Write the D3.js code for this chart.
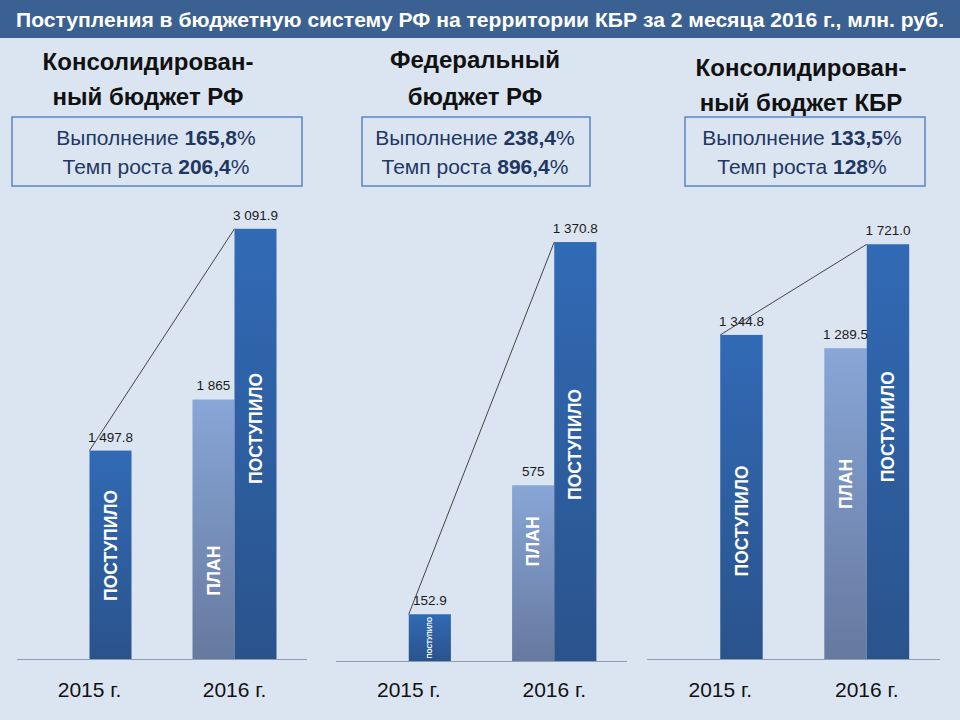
<!DOCTYPE html>
<html>
<head>
<meta charset="utf-8">
<script src="https://cdn.jsdelivr.net/npm/d3@7"></script>
<style>
  body { margin: 0; background: #dbe5f1; }
  svg { display: block; }
</style>
</head>
<body>
<script>
// chart data
var title = "Поступления в бюджетную систему РФ на территории КБР за 2 месяца 2016 г., млн. руб.";
var panelTitles = [["Консолидирован-", "ный бюджет РФ"], ["Федеральный", "бюджет РФ"], ["Консолидирован-", "ный бюджет КБР"]];
var execPct = ["165,8%", "238,4%", "133,5%"];
var growthPct = ["206,4%", "896,4%", "128%"];
var years = ["2015 г.", "2016 г."];
var series = ["plan", "actual"];
var planValues = [[null, 1865], [null, 575], [null, 1289.5]];
var actualValues = [[1497.8, 3091.9], [152.9, 1370.8], [1344.8, 1721.0]];
var seriesNames = { plan: "ПЛАН", actual: "ПОСТУПИЛО" };

function init() {
    var w = 960, h = 720;
    var svg = d3.select("body").append("svg").attr("width", w).attr("height", h);

    var defs = svg.append("defs");
    function grad(id, top, bottom) {
        var g = defs.append("linearGradient").attr("id", id)
            .attr("x1", 0).attr("y1", 0).attr("x2", 0).attr("y2", 1);
        g.append("stop").attr("offset", "0%").attr("stop-color", top);
        g.append("stop").attr("offset", "100%").attr("stop-color", bottom);
    }
    grad("gActual", "#316ab5", "#2a538c");
    grad("gPlan", "#88a6d7", "#66799f");

    svg.append("rect").attr("width", w).attr("height", h).attr("fill", "#dbe5f1");

    // title bar
    svg.append("rect").attr("x", 0).attr("y", 0).attr("width", w).attr("height", 38).attr("fill", "#3b6192");
    svg.append("text")
        .attr("x", w / 2).attr("y", 27)
        .attr("text-anchor", "middle")
        .attr("textLength", 928).attr("lengthAdjust", "spacingAndGlyphs")
        .style("font-family", "Liberation Sans, Arial, sans-serif")
        .style("font-weight", "bold").style("font-size", "20px")
        .attr("fill", "white")
        .text(title);

    // layout of the three panels
    var axisX = [[17, 307], [336, 627], [647, 940]];
    var baseY = [659, 661, 659];
    var topY = [172, 172, 177];
    var yMax = [3500, 1600, 2000];
    var headX = [148, 475, 801];
    var headY = [[62, 97], [60, 97], [68, 103]];
    var boxX = [[12, 302], [362, 590], [685, 925]];
    var boxTextX = [156, 475, 802];
    // where the rotated series name sits, as a share of bar height
    var actualLabelAt = [[0.545, 0.536], [0.5, 0.517], [0.426, 0.56]];
    var planLabelAt = [[null, 0.34], [null, 0.68], [null, 0.563]];

    var locale = d3.formatLocale({ decimal: ".", thousands: "\u00a0", grouping: [3], currency: ["", ""] });
    var fmtActual = locale.format(",.1f");
    var fmtPlan = locale.format(",~f");

    var font = "Liberation Sans, Arial, sans-serif";

    for (var p = 0; p < 3; p++) {
        var g = svg.append("g").attr("class", "panel");

        // heading
        panelTitles[p].forEach(function (line, i) {
            g.append("text")
                .attr("x", headX[p]).attr("y", headY[p][i] + 8)
                .attr("text-anchor", "middle")
                .style("font-family", font).style("font-weight", "bold").style("font-size", "24px")
                .attr("fill", "#111")
                .text(line);
        });

        // box with percentages
        g.append("rect")
            .attr("x", boxX[p][0]).attr("y", 117)
            .attr("width", boxX[p][1] - boxX[p][0]).attr("height", 69)
            .attr("fill", "none").attr("stroke", "#5b86c0").attr("stroke-width", 1.5);
        var t1 = g.append("text").attr("x", boxTextX[p]).attr("y", 145)
            .attr("text-anchor", "middle")
            .style("font-family", font).style("font-size", "21px").attr("fill", "#1f3763");
        t1.append("tspan").text("Выполнение ");
        t1.append("tspan").style("font-weight", "bold").text(execPct[p].replace("%", ""));
        t1.append("tspan").text("%");
        var t2 = g.append("text").attr("x", boxTextX[p]).attr("y", 174)
            .attr("text-anchor", "middle")
            .style("font-family", font).style("font-size", "21px").attr("fill", "#1f3763");
        t2.append("tspan").text("Темп роста ");
        t2.append("tspan").style("font-weight", "bold").text(growthPct[p].replace("%", ""));
        t2.append("tspan").text("%");

        // scales
        var x0 = d3.scaleBand().domain(years).range(axisX[p]).padding(0);
        var x1 = d3.scaleBand().domain(series).range([0, x0.bandwidth()]).paddingInner(0).paddingOuter(0.726);
        var y = d3.scaleLinear().domain([0, yMax[p]]).range([baseY[p], topY[p]]);

        // baseline
        g.append("line")
            .attr("x1", axisX[p][0]).attr("x2", axisX[p][1])
            .attr("y1", baseY[p] + 0.5).attr("y2", baseY[p] + 0.5)
            .attr("stroke", "#8d9db3").attr("stroke-width", 1);

        var bars = [];
        years.forEach(function (yr, i) {
            if (planValues[p][i] != null) {
                bars.push({ s: "plan", yr: yr, v: planValues[p][i], at: planLabelAt[p][i], label: fmtPlan(planValues[p][i]) });
            }
            if (actualValues[p][i] != null) {
                bars.push({ s: "actual", yr: yr, v: actualValues[p][i], at: actualLabelAt[p][i], label: fmtActual(actualValues[p][i]) });
            }
        });

        g.selectAll("rect.bar")
            .data(bars)
            .enter()
            .append("rect")
            .attr("class", "bar")
            .attr("x", function (d) { return x0(d.yr) + x1(d.s); })
            .attr("y", function (d) { return y(d.v); })
            .attr("width", x1.bandwidth())
            .attr("height", function (d) { return y(0) - y(d.v); })
            .attr("fill", function (d) { return d.s == "plan" ? "url(#gPlan)" : "url(#gActual)"; });

        // value labels
        g.selectAll("text.val")
            .data(bars)
            .enter()
            .append("text")
            .attr("class", "val")
            .attr("x", function (d) { return x0(d.yr) + x1(d.s) + x1.bandwidth() / 2; })
            .attr("y", function (d) { return y(d.v) - 9; })
            .attr("text-anchor", "middle")
            .style("font-family", font).style("font-size", "13.5px")
            .attr("fill", "#1a1a1a")
            .text(function (d) { return d.label; });

        // series names inside the bars
        g.selectAll("text.name")
            .data(bars)
            .enter()
            .append("text")
            .attr("class", "name")
            .attr("transform", function (d) {
                var cx = x0(d.yr) + x1(d.s) + x1.bandwidth() / 2;
                var cy = y(0) - (y(0) - y(d.v)) * d.at;
                return "translate(" + cx + "," + cy + ") rotate(-90)";
            })
            .attr("text-anchor", "middle")
            .attr("dy", "0.35em")
            .style("font-family", font).style("font-weight", "bold")
            .style("font-size", function (d) { return (y(0) - y(d.v)) < 80 ? "6.5px" : "17.5px"; })
            .attr("fill", "white")
            .text(function (d) { return seriesNames[d.s]; });

        // growth connector between the actual bars
        var a0 = actualValues[p][0], a1 = actualValues[p][1];
        g.append("line")
            .attr("x1", x0(years[0]) + x1("actual")).attr("y1", y(a0))
            .attr("x2", x0(years[1]) + x1("actual")).attr("y2", y(a1))
            .attr("stroke", "#444").attr("stroke-width", 1);

        // year labels
        g.selectAll("text.year")
            .data(years)
            .enter()
            .append("text")
            .attr("class", "year")
            .attr("x", function (d) { return x0(d) + x0.bandwidth() / 2; })
            .attr("y", 697)
            .attr("text-anchor", "middle")
            .style("font-family", font).style("font-size", "21px")
            .attr("fill", "#111")
            .text(function (d) { return d; });
    }
}

window.onload = init;
</script>
</body>
</html>
